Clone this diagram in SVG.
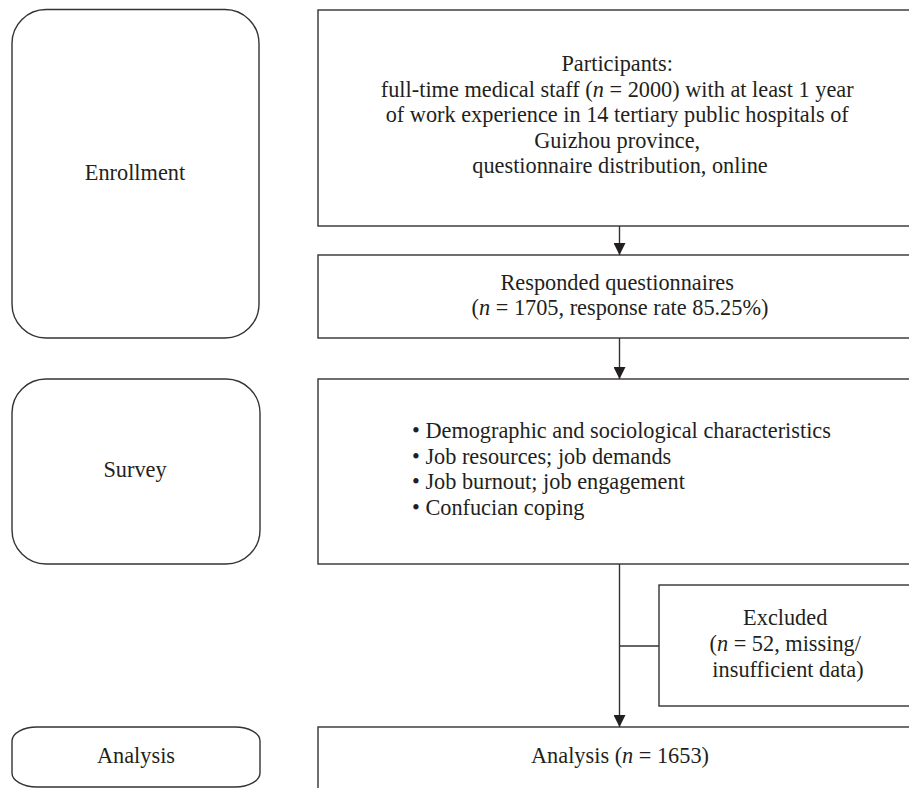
<svg xmlns="http://www.w3.org/2000/svg" width="909" height="788" viewBox="0 0 909 788">
<style>
  .box{fill:#fff;stroke:#333;stroke-width:1.4}
  .t{font-family:"Liberation Serif","Times New Roman",serif;font-size:22.3px;fill:#231f20}
  .c{text-anchor:middle}
  .ln{fill:none;stroke:#333;stroke-width:1.4}
</style>
<defs>
  <marker id="ah" markerUnits="userSpaceOnUse" markerWidth="13" markerHeight="12" refX="12" refY="6" orient="auto" viewBox="0 0 13 12">
    <path d="M0,0 L12,6 L0,12 Z" fill="#231f20"/>
  </marker>
</defs>
<rect width="909" height="788" fill="#fff"/>

<g id="stage-enrollment">
  <rect class="box" x="12" y="9.5" width="247" height="328.5" rx="34" ry="34"/>
  <text class="t c" x="135" y="180">Enrollment</text>
</g>
<g id="stage-survey">
  <rect class="box" x="12" y="379" width="248" height="185" rx="34" ry="34"/>
  <text class="t c" x="135" y="477">Survey</text>
</g>
<g id="stage-analysis">
  <rect class="box" x="12" y="727" width="248" height="60" rx="25" ry="14"/>
  <text class="t c" x="136" y="763">Analysis</text>
</g>

<g id="participants">
  <rect class="box" x="318" y="10" width="640" height="216"/>
  <text class="t c" x="620">
    <tspan x="620" y="71">Participants:</tspan>
    <tspan x="620" y="97">full-time medical staff (<tspan font-style="italic">n</tspan> = 2000) with at least 1 year</tspan>
    <tspan x="620" y="122">of work experience in 14 tertiary public hospitals of</tspan>
    <tspan x="620" y="148">Guizhou province,</tspan>
    <tspan x="620" y="173">questionnaire distribution, online</tspan>
  </text>
</g>
<g id="responded">
  <rect class="box" x="318" y="255" width="640" height="83"/>
  <text class="t c">
    <tspan x="620" y="290">Responded questionnaires</tspan>
    <tspan x="620" y="315">(<tspan font-style="italic">n</tspan> = 1705, response rate 85.25%)</tspan>
  </text>
</g>
<g id="survey">
  <rect class="box" x="318" y="379" width="640" height="185"/>
  <text class="t">
    <tspan x="412" y="438">• Demographic and sociological characteristics</tspan>
    <tspan x="412" y="463.5">• Job resources; job demands</tspan>
    <tspan x="412" y="489">• Job burnout; job engagement</tspan>
    <tspan x="412" y="514.5">• Confucian coping</tspan>
  </text>
</g>
<g id="excluded">
  <rect class="box" x="659" y="585" width="300" height="121"/>
  <text class="t c">
    <tspan x="788" y="625">Excluded</tspan>
    <tspan x="788" y="651">(<tspan font-style="italic">n</tspan> = 52, missing/</tspan>
    <tspan x="788" y="677">insufficient data)</tspan>
  </text>
</g>
<g id="analysis">
  <rect class="box" x="318" y="727" width="640" height="100"/>
  <text class="t c" x="620" y="763">Analysis (<tspan font-style="italic">n</tspan> = 1653)</text>
</g>

<g id="connectors">
  <line class="ln" x1="619.5" y1="226" x2="619.5" y2="255" marker-end="url(#ah)"/>
  <line class="ln" x1="619.5" y1="338" x2="619.5" y2="379" marker-end="url(#ah)"/>
  <line class="ln" x1="619.5" y1="564" x2="619.5" y2="727" marker-end="url(#ah)"/>
  <line class="ln" x1="619.5" y1="646" x2="659" y2="646"/>
</g>
</svg>
